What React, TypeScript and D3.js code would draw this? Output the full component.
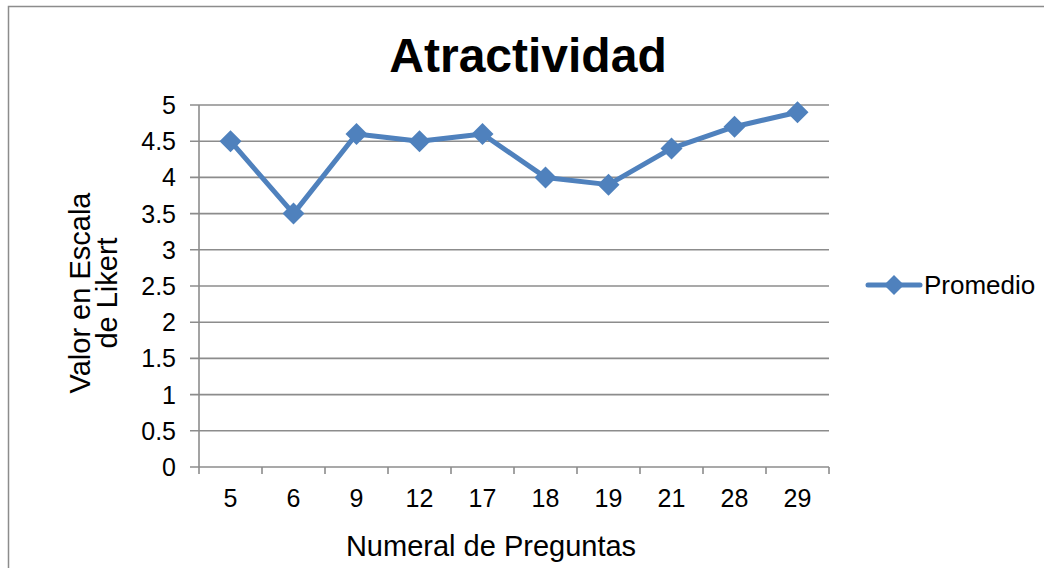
import React from "react";
import * as d3 from "d3";

const categories = ["5", "6", "9", "12", "17", "18", "19", "21", "28", "29"];
const promedio = [4.5, 3.5, 4.6, 4.5, 4.6, 4.0, 3.9, 4.4, 4.7, 4.9];
const yTicks = [0, 0.5, 1, 1.5, 2, 2.5, 3, 3.5, 4, 4.5, 5];
const title = "Atractividad";
const xTitle = "Numeral de Preguntas";
const yTitleLines = ["Valor en Escala", "de Likert"];
const seriesName = "Promedio";

const W = 1044;
const H = 568;
const left = 199, right = 829, top = 105, bottom = 467;
const blue = "#4f81bd";
const grid = "#8c8c8c";
const font = "Arial, 'Liberation Sans', sans-serif";

function diamond(cx: number, cy: number, r: number) {
  return `M${cx},${cy - r}L${cx + r},${cy}L${cx},${cy + r}L${cx - r},${cy}Z`;
}

export default function App() {
  const x = d3.scaleBand<string>().domain(categories).range([left, right]).padding(0);
  const y = d3.scaleLinear().domain([0, 5]).range([bottom, top]);
  const line = d3
    .line<number>()
    .x((_, i) => (x(categories[i]) as number) + x.bandwidth() / 2)
    .y((d) => y(d));
  const boundaries = categories.map((c) => x(c) as number).concat([right]);

  return (
    <svg width={W} height={H} style={{ display: "block", position: "absolute", left: 0, top: 0 }} fontFamily={font}>
      <rect x={0} y={0} width={W} height={H} fill="#fff" />
      <rect x={8.5} y={6.5} width={W + 10} height={H + 10} fill="none" stroke="#8c8c8c" strokeWidth={1.5} />
      <text x={528} y={72} textAnchor="middle" fontSize={48} fontWeight="bold" fill="#000">{title}</text>
      {yTicks.map((t) => (
        <g key={t}>
          <line x1={190} x2={right} y1={y(t)} y2={y(t)} stroke={grid} strokeWidth={1.6} />
          <text x={176} y={y(t) + 9} textAnchor="end" fontSize={25} fill="#000">{t}</text>
        </g>
      ))}
      <line x1={left} x2={left} y1={top} y2={bottom} stroke={grid} strokeWidth={1.6} />
      {boundaries.map((b, i) => (
        <line key={i} x1={b} x2={b} y1={bottom} y2={bottom + 7} stroke={grid} strokeWidth={1.6} />
      ))}
      {categories.map((c) => (
        <text key={c} x={(x(c) as number) + x.bandwidth() / 2} y={507} textAnchor="middle" fontSize={25} fill="#000">{c}</text>
      ))}
      <text x={491} y={556} textAnchor="middle" fontSize={29} fill="#000">{xTitle}</text>
      <g transform="translate(0,293) rotate(-90)">
        {yTitleLines.map((l, i) => (
          <text key={l} x={0} y={90 + i * 27} textAnchor="middle" fontSize={29} fill="#000">{l}</text>
        ))}
      </g>
      <path d={line(promedio) || ""} fill="none" stroke={blue} strokeWidth={5} strokeLinejoin="round" />
      {promedio.map((v, i) => (
        <path key={i} d={diamond((x(categories[i]) as number) + x.bandwidth() / 2, y(v), 11)} fill={blue} />
      ))}
      <line x1={868} x2={920} y1={285} y2={285} stroke={blue} strokeWidth={5} strokeLinecap="round" />
      <path d={diamond(894, 285, 10)} fill={blue} />
      <text x={924} y={294} fontSize={26} fill="#000">{seriesName}</text>
    </svg>
  );
}
